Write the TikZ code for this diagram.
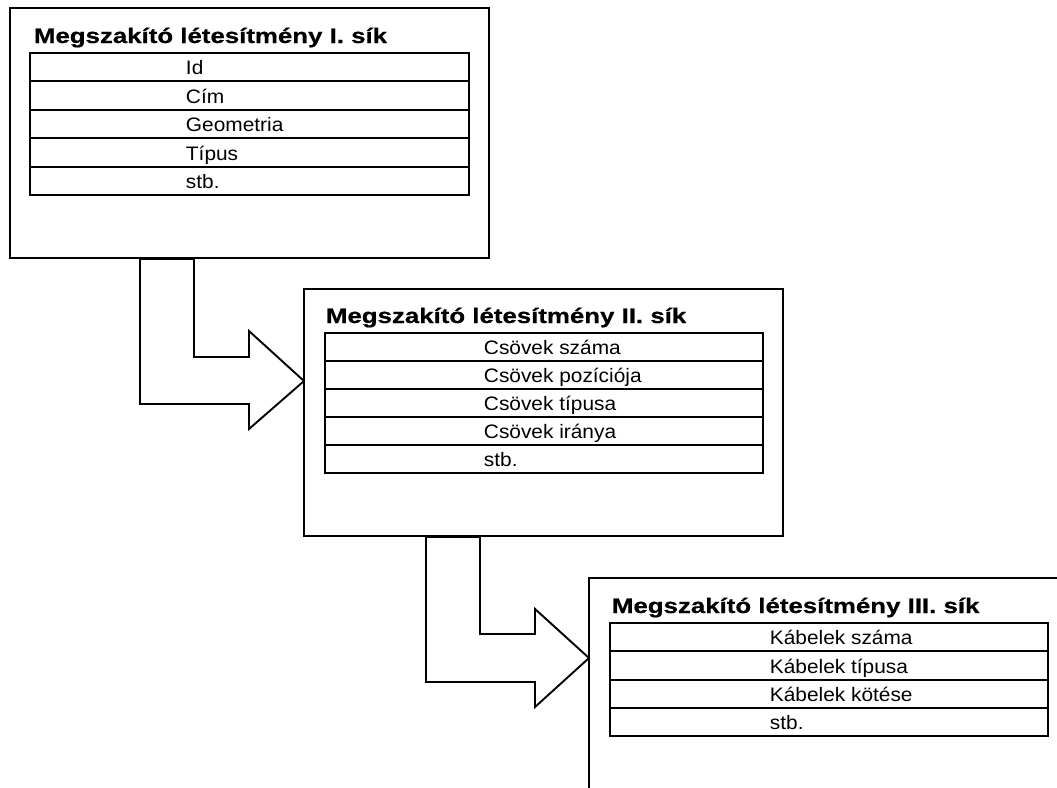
\documentclass[tikz,border=0pt]{standalone}
\usepackage{fontspec}
\setmainfont{Liberation Sans}
\newfontfamily\titlefont[FakeStretch=1.23,FakeBold=0.6]{Liberation Sans}
\newfontfamily\rowfont[FakeStretch=1.07]{Liberation Sans}
\tikzset{
  planebox/.style={draw, rectangle, inner sep=0pt, outer sep=0pt, anchor=north west},
  planetitle/.style={anchor=base west, inner sep=0pt, font=\titlefont\bfseries\fontsize{21}{25}\selectfont},
  rowtext/.style={anchor=base west, inner sep=0pt, font=\rowfont\fontsize{19.5}{23}\selectfont},
  blockarrow/.style={draw, line join=miter},
}
\begin{document}
\begin{tikzpicture}[x=1pt, y=-1pt, line width=1.9pt]
\useasboundingbox (0,0) rectangle (1057,787);
\clip (0,0) rectangle (1057,787);
% the three planes (the third one runs off the page)
\node[planebox, minimum width=479pt, minimum height=250pt] (plane1) at (10,8) {};
\node[planebox, minimum width=479pt, minimum height=247pt] (plane2) at (304,289) {};
\node[planebox, minimum width=500pt, minimum height=230pt] (plane3) at (589,578) {};
\node[planetitle] (title1) at (33,43) {Megszakító létesítmény I. sík};
\node[planetitle] (title2) at (325,323) {Megszakító létesítmény II. sík};
\node[planetitle] (title3) at (611,613) {Megszakító létesítmény III. sík};
% 28.4 = row height, 7.5 = baseline above row bottom
\foreach \txt [count=\i] in {Id, Cím, Geometria, Típus, stb.}{
	\draw (30,{53+(\i-1)*28.4}) rectangle (469,{53+\i*28.4});
	\node[rowtext] (rowA\i) at (185,{53+\i*28.4-6.5}) {\txt};
}
\foreach \txt [count=\i] in {Csövek száma, Csövek pozíciója, Csövek típusa, Csövek iránya, stb.}{
	\draw (325,{333+(\i-1)*28}) rectangle (763,{333+\i*28});
	\node[rowtext] (rowB\i) at (483,{333+\i*28-6.5}) {\txt};
}
\foreach \txt [count=\i] in {Kábelek száma, Kábelek típusa, Kábelek kötése, stb.}{
	\draw (610,{623+(\i-1)*28.3}) rectangle (1048,{623+\i*28.3});
	\node[rowtext] (rowC\i) at (769,{623+\i*28.3-6.5}) {\txt};
}
% bent block arrows: I. -> II., II. -> III.
\draw[blockarrow] (140,259) -- (194,259) -- (194,357) -- (249,357) -- (249,331)
	-- (plane2.west |- 0,381) -- (249,429) -- (249,404) -- (140,404) -- cycle;
\draw[blockarrow] (426,537) -- (480,537) -- (480,634) -- (535,634) -- (535,609)
	-- (plane3.west |- 0,658) -- (535,707) -- (535,682) -- (426,682) -- cycle;
\end{tikzpicture}
\end{document}
